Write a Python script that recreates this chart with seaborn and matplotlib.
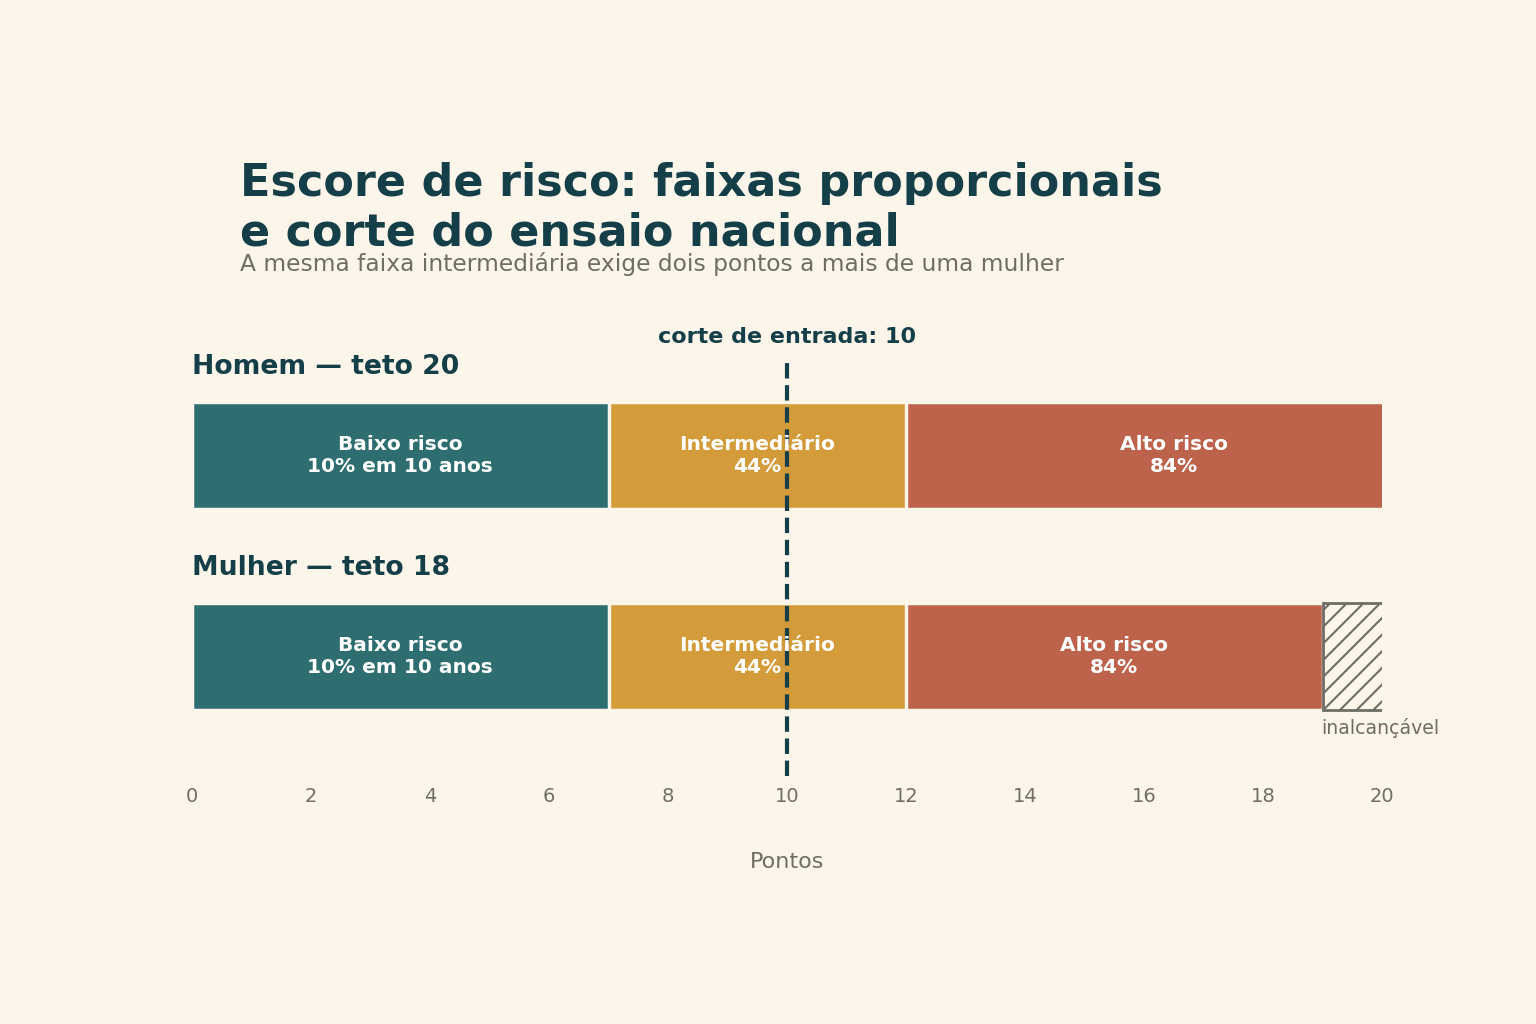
import matplotlib
matplotlib.use("Agg")
import matplotlib.pyplot as plt
import seaborn as sns
import pandas as pd

# dados
sexos = ["Homem", "Mulher"]
rotulos_linha = ["Homem — teto 20", "Mulher — teto 18"]
faixas = ["Baixo risco\n10% em 10 anos", "Intermediário\n44%", "Alto risco\n84%"]
inicio_baixo = [0, 0]
fim_baixo = [7, 7]
fim_inter = [12, 12]
fim_alto = [21, 19]
inalcancavel_ini = [None, 19]
inalcancavel_fim = [None, 21]
corte = 10
ticks = list(range(0, 21, 2))

BG = "#FBF5EA"
DARK = "#143F49"
GRAY = "#6E6E66"
cores = ["#2F6E70", "#D39B3A", "#BD624B"]

sns.set_theme(style="white")
plt.rcParams["font.family"] = ["DejaVu Sans"]
plt.rcParams["hatch.linewidth"] = 1.5

fig = plt.figure(figsize=(15.36, 10.24), dpi=100, facecolor=BG)
ax = fig.add_axes([192 / 1536, 1 - 776 / 1024, (1382 - 192) / 1536, 416 / 1024])
ax.set_facecolor(BG)

df = pd.DataFrame({"sexo": sexos, "baixo": fim_baixo, "inter": fim_inter, "alto": fim_alto})

# barras sobrepostas (da maior para a menor) para formar as faixas empilhadas
for col, cor in zip(["alto", "inter", "baixo"], cores[::-1]):
    sns.barplot(data=df, x=col, y="sexo", order=sexos, orient="h", color=cor,
                width=0.53, edgecolor=BG, linewidth=2.5, errorbar=None,
                saturation=1, ax=ax, zorder=2)

# faixa inalcançável
for i, (a, b) in enumerate(zip(inalcancavel_ini, inalcancavel_fim)):
    if a is None:
        continue
    ax.barh(i, b - a, left=a, height=0.53, facecolor=BG, edgecolor=GRAY,
            hatch="//", linewidth=2, zorder=2)
    ax.text(19.98, i + 0.355, "inalcançável", ha="center", va="center",
            fontsize=13.6, color=GRAY)

# rótulos das faixas
for i in range(len(sexos)):
    limites = [inicio_baixo[i], fim_baixo[i], fim_inter[i], fim_alto[i]]
    for j, txt in enumerate(faixas):
        xc = (limites[j] + limites[j + 1]) / 2
        ax.text(xc, i, txt, ha="center", va="center", color="white",
                fontsize=14.5, fontweight="bold", zorder=6)
    ax.text(0, i - 0.44, rotulos_linha[i], ha="left", va="center",
            fontsize=19.2, fontweight="bold", color=DARK)

# linha de corte
ax.axvline(corte, color=DARK, lw=3, ls="--", zorder=5)
ax.text(corte, 1.055, f"corte de entrada: {corte}", transform=ax.get_xaxis_transform(),
        ha="center", va="center", fontsize=16, fontweight="bold", color=DARK)

ax.set_xlim(0, 20)
ax.set_ylim(1.594, -0.473)
ax.set_xticks(ticks)
ax.set_yticks([])
ax.set_ylabel("")
ax.tick_params(axis="x", length=0, pad=8, labelsize=14, labelcolor=GRAY)
ax.set_xlabel("Pontos", fontsize=16, color=GRAY, labelpad=33)
sns.despine(ax=ax, left=True, bottom=True)

fig.text(240 / 1536, 1 - 162 / 1024,
         "Escore de risco: faixas proporcionais\ne corte do ensaio nacional",
         ha="left", va="top", fontsize=32, fontweight="bold", color=DARK, linespacing=1.2)
fig.text(240 / 1536, 1 - 271 / 1024,
         "A mesma faixa intermediária exige dois pontos a mais de uma mulher",
         ha="left", va="baseline", fontsize=16.8, color=GRAY)

fig.savefig("out.png", dpi=100, facecolor=BG)
